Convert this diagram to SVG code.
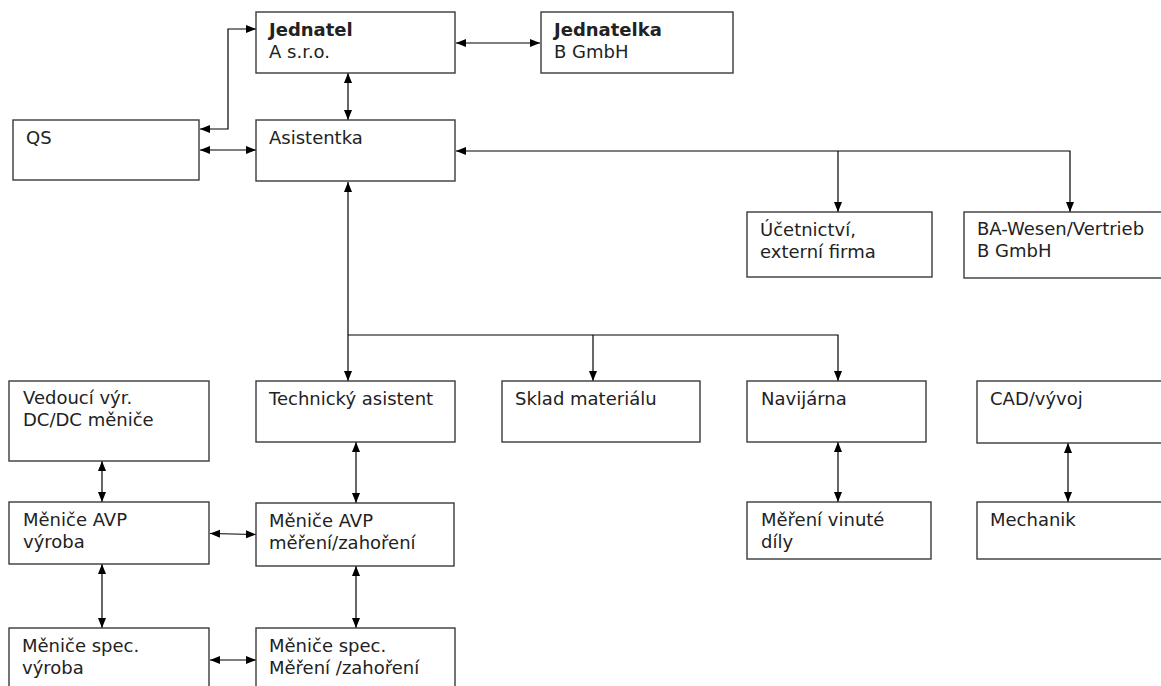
<svg xmlns="http://www.w3.org/2000/svg" width="1161" height="686" viewBox="0 0 1161 686">
<style>
.box{fill:#fff;stroke:#3a3a3a;stroke-width:1.4}
text{font-family:"DejaVu Sans",sans-serif;font-size:18px;fill:#222}
.b{font-weight:bold}
.c{fill:none;stroke:#000;stroke-width:1.2}
</style>
<defs>
<marker id="a" markerUnits="userSpaceOnUse" markerWidth="10" markerHeight="10" viewBox="0 0 10 10" refX="10" refY="5" orient="auto-start-reverse">
<path d="M0,1 L10,5 L0,9 Z" fill="#000"/>
</marker>
</defs>
<rect width="1161" height="686" fill="#fff"/>
<g id="connectors">
<path class="c" d="M456,43 H540" marker-start="url(#a)" marker-end="url(#a)"/>
<path class="c" d="M348,73 V120" marker-start="url(#a)" marker-end="url(#a)"/>
<path class="c" d="M200,129 H228 V29 H256" marker-start="url(#a)" marker-end="url(#a)"/>
<path class="c" d="M200,150 H256" marker-start="url(#a)" marker-end="url(#a)"/>
<path class="c" d="M456,151 H1070 V212" marker-start="url(#a)" marker-end="url(#a)"/>
<path class="c" d="M838,151 V212" marker-end="url(#a)"/>
<path class="c" d="M348,182 V381" marker-start="url(#a)" marker-end="url(#a)"/>
<path class="c" d="M348,335 H838 V381" marker-end="url(#a)"/>
<path class="c" d="M593,335 V381" marker-end="url(#a)"/>
<path class="c" d="M102,461 V502" marker-start="url(#a)" marker-end="url(#a)"/>
<path class="c" d="M356,442 V503" marker-start="url(#a)" marker-end="url(#a)"/>
<path class="c" d="M210,533.5 L256,534.5" marker-start="url(#a)" marker-end="url(#a)"/>
<path class="c" d="M102,564 V628" marker-start="url(#a)" marker-end="url(#a)"/>
<path class="c" d="M356,566 V628" marker-start="url(#a)" marker-end="url(#a)"/>
<path class="c" d="M210,660 H256" marker-start="url(#a)" marker-end="url(#a)"/>
<path class="c" d="M838,442 V502" marker-start="url(#a)" marker-end="url(#a)"/>
<path class="c" d="M1068,443 V502" marker-start="url(#a)" marker-end="url(#a)"/>
</g>
<g id="jednatel"><rect class="box" x="256" y="12" width="199" height="61"/><text x="269" y="36" class="b">Jednatel</text><text x="269" y="58">A s.r.o.</text></g>
<g id="jednatelka"><rect class="box" x="541" y="12" width="192" height="61"/><text x="554" y="36" class="b">Jednatelka</text><text x="554" y="58">B GmbH</text></g>
<g id="qs"><rect class="box" x="13" y="120" width="186" height="60"/><text x="26" y="144">QS</text></g>
<g id="asistentka"><rect class="box" x="256" y="120" width="199" height="61"/><text x="269" y="144">Asistentka</text></g>
<g id="ucetnictvi"><rect class="box" x="747" y="212" width="185" height="65"/><text x="760" y="236">Účetnictví,</text><text x="760" y="258">externí firma</text></g>
<g id="ba-wesen"><rect class="box" x="964" y="212" width="210" height="66"/><text x="977" y="235">BA-Wesen/Vertrieb</text><text x="977" y="257">B GmbH</text></g>
<g id="vedouci"><rect class="box" x="9" y="381" width="200" height="80"/><text x="23" y="404">Vedoucí výr.</text><text x="23" y="426">DC/DC měniče</text></g>
<g id="technicky"><rect class="box" x="256" y="381" width="199" height="61"/><text x="269" y="405">Technický asistent</text></g>
<g id="sklad"><rect class="box" x="502" y="381" width="198" height="61"/><text x="515" y="405">Sklad materiálu</text></g>
<g id="navijarna"><rect class="box" x="747" y="381" width="179" height="61"/><text x="761" y="405">Navijárna</text></g>
<g id="cad"><rect class="box" x="977" y="381" width="200" height="62"/><text x="990" y="405">CAD/vývoj</text></g>
<g id="avp-vyroba"><rect class="box" x="9" y="502" width="200" height="62"/><text x="23" y="526">Měniče AVP</text><text x="23" y="548">výroba</text></g>
<g id="avp-mereni"><rect class="box" x="256" y="503" width="198" height="63"/><text x="269" y="527">Měniče AVP</text><text x="269" y="549">měření/zahoření</text></g>
<g id="mereni-vinute"><rect class="box" x="747" y="502" width="184" height="57"/><text x="761" y="526">Měření vinuté</text><text x="761" y="548">díly</text></g>
<g id="mechanik"><rect class="box" x="977" y="502" width="200" height="57"/><text x="990" y="526">Mechanik</text></g>
<g id="spec-vyroba"><rect class="box" x="9" y="628" width="200" height="70"/><text x="22" y="652">Měniče spec.</text><text x="22" y="674">výroba</text></g>
<g id="spec-mereni"><rect class="box" x="256" y="628" width="199" height="70"/><text x="269" y="652">Měniče spec.</text><text x="269" y="674">Měření /zahoření</text></g>
</svg>
